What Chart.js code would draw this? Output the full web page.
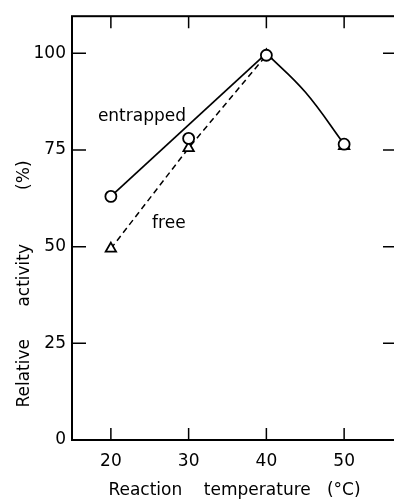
<!DOCTYPE html>
<html><head><meta charset="utf-8">
<script src="https://cdn.jsdelivr.net/npm/chart.js@4"></script>
<style>
html,body{margin:0;padding:0;background:#fff;overflow:hidden;width:394px;height:501px}
#wrap{position:relative;width:398px;height:501px}
</style></head>
<body><div id="wrap"><canvas id="c" width="398" height="501"></canvas></div>
<script>
// ---- data ----
const temperatures = [20, 30, 40, 50];
const entrappedActivity = [63, 78, 99.5, 76.5];
const freeActivity = [49.5, 75.5, 99.5, 76];
// hand-drawn curve for entrapped enzyme
const entrappedLineX = [20, 40];
const entrappedLineY = [63, 100];
const entrappedCurveX = [40, 45, 50];
const entrappedCurveY = [100, 90, 76.5];
// dashed line for free enzyme
const freeLineX = [20, 30, 40];
const freeLineY = [49.5, 75.5, 99.5];
const xTicks = [20, 30, 40, 50];
const yTicks = [0, 25, 50, 75, 100];
const xTitle = 'Reaction    temperature   (°C)';
const yTitle = '      Relative      activity          (%)';
const notes = [
  {text: 'entrapped', x: 18.33, y: 82.6},
  {text: 'free', x: 25.3, y: 54.8}
];

const pts = (xs, ys) => xs.map((x, i) => ({x, y: ys[i]}));
const FONT = 'DejaVu Sans';

const framePlugin = {
  id: 'frame',
  beforeDatasetsDraw(chart) {
    const {ctx, chartArea: a, scales: {x, y}} = chart;
    ctx.save();
    ctx.strokeStyle = '#000';
    ctx.lineWidth = 2;
    ctx.strokeRect(a.left, a.top, a.right - a.left, a.bottom - a.top);
    ctx.lineWidth = 1.5;
    ctx.beginPath();
    xTicks.forEach(v => {
      const px = x.getPixelForValue(v);
      ctx.moveTo(px, a.bottom); ctx.lineTo(px, a.bottom - 12);
      ctx.moveTo(px, a.top); ctx.lineTo(px, a.top + 12);
    });
    yTicks.forEach(v => {
      const py = y.getPixelForValue(v);
      ctx.moveTo(a.left, py); ctx.lineTo(a.left + 14, py);
      ctx.moveTo(a.right, py); ctx.lineTo(a.right - 14, py);
    });
    ctx.stroke();
    ctx.restore();
  },
  afterDatasetsDraw(chart) {
    const {ctx, scales: {x, y}} = chart;
    ctx.save();
    ctx.fillStyle = '#000';
    ctx.font = '17px "' + FONT + '"';
    ctx.textAlign = 'left';
    ctx.textBaseline = 'alphabetic';
    notes.forEach(n => ctx.fillText(n.text, x.getPixelForValue(n.x), y.getPixelForValue(n.y)));
    ctx.restore();
  }
};

new Chart(document.getElementById('c'), {
  type: 'scatter',
  data: {
    datasets: [
      {
        label: 'entrapped',
        data: pts(temperatures, entrappedActivity),
        showLine: false,
        pointStyle: 'circle',
        pointRadius: 5.5,
        pointBorderWidth: 1.8,
        pointBorderColor: '#000',
        pointBackgroundColor: '#fff'
      },
      {
        label: 'free',
        data: pts(temperatures, freeActivity),
        showLine: false,
        pointStyle: 'triangle',
        pointRadius: 6,
        pointBorderWidth: 1.8,
        pointBorderColor: '#000',
        pointBackgroundColor: '#fff'
      },
      {
        label: 'entrapped line',
        data: pts(entrappedLineX, entrappedLineY),
        showLine: true, pointRadius: 0,
        borderColor: '#000', borderWidth: 1.7, tension: 0
      },
      {
        label: 'entrapped curve',
        data: pts(entrappedCurveX, entrappedCurveY),
        showLine: true, pointRadius: 0,
        borderColor: '#000', borderWidth: 1.7, tension: 0.4
      },
      {
        label: 'free line',
        data: pts(freeLineX, freeLineY),
        showLine: true, pointRadius: 0,
        borderColor: '#000', borderWidth: 1.5, borderDash: [6, 4], tension: 0
      }
    ]
  },
  options: {
    responsive: false,
    animation: false,
    devicePixelRatio: 1,
    layout: {autoPadding: false, padding: {left: 0, right: 1, top: 6, bottom: 0}},
    plugins: {legend: {display: false}, tooltip: {enabled: false}},
    scales: {
      x: {
        type: 'linear', position: 'bottom',
        min: 15, max: 56.8,
        afterBuildTicks: s => { s.ticks = xTicks.map(v => ({value: v})); },
        afterFit: s => { s.height = 61; },
        grid: {display: false, drawTicks: false},
        border: {display: false},
        ticks: {color: '#000', padding: 11, font: {family: FONT, size: 17}, maxRotation: 0},
        title: {display: true, text: xTitle, color: '#000', padding: {top: 0, bottom: 0},
                font: {family: FONT, size: 17}}
      },
      y: {
        type: 'linear', position: 'left',
        min: 0, max: 109.6,
        afterBuildTicks: s => { s.ticks = yTicks.map(v => ({value: v})); },
        afterFit: s => { s.width = 72; },
        grid: {display: false, drawTicks: false},
        border: {display: false},
        ticks: {color: '#000', padding: 6, font: {family: FONT, size: 17}},
        title: {display: true, text: yTitle, align: 'start', color: '#000',
                padding: {top: 14, bottom: 0}, font: {family: FONT, size: 17}}
      }
    }
  },
  plugins: [framePlugin]
});
</script>
</body></html>
